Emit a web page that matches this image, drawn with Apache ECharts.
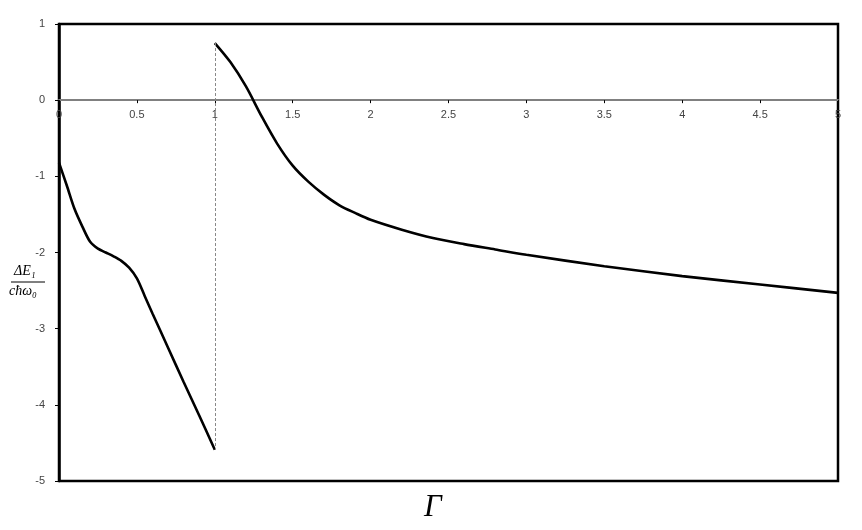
<!DOCTYPE html>
<html>
<head>
<meta charset="utf-8">
<script src="https://cdn.jsdelivr.net/npm/echarts@6/dist/echarts.min.js"></script>
<style>
html,body{margin:0;padding:0;background:#fff;}
#chart{width:862px;height:530px;}
</style>
</head>
<body>
<div id="chart"></div>
<script>
// Branch below Γ = 1
const gammaLow  = [0, 0.05, 0.1, 0.15, 0.2, 0.25, 0.3, 0.35, 0.4, 0.45, 0.5, 0.55, 0.6, 0.7, 0.8, 0.9, 1.0];
const energyLow = [-0.82, -1.12, -1.43, -1.66, -1.86, -1.95, -2.0, -2.05, -2.11, -2.2, -2.34, -2.57, -2.8, -3.25, -3.7, -4.14, -4.59];
// Branch above Γ = 1
const gammaHigh  = [1.0, 1.1, 1.2, 1.3, 1.4, 1.5, 1.6, 1.7, 1.8, 1.9, 2.0, 2.2, 2.4, 2.6, 2.8, 3.0, 3.5, 4.0, 4.5, 5.0];
const energyHigh = [0.75, 0.5, 0.18, -0.21, -0.57, -0.86, -1.07, -1.24, -1.38, -1.48, -1.57, -1.70, -1.81, -1.89, -1.96, -2.03, -2.18, -2.31, -2.42, -2.53];
const xTicks = [0, 0.5, 1, 1.5, 2, 2.5, 3, 3.5, 4, 4.5, 5];
const yTicks = [1, 0, -1, -2, -3, -4, -5];

const chart = echarts.init(document.getElementById('chart'));
const zip = (a, b) => a.map((v, i) => [v, b[i]]);
const lineStyle = { color: '#000', width: 2.6 };

const GRID = { left: 59, right: 24, top: 24, bottom: 49 };
const plotH = 530 - GRID.top - GRID.bottom;
const yMax = yTicks[0], yMin = yTicks[yTicks.length - 1];
// distance from top of plot to the zero line
const zeroOffset = plotH * (yMax - 0) / (yMax - yMin);

chart.setOption({
  animation: false,
  backgroundColor: '#fff',
  grid: Object.assign({ show: true, borderColor: '#000', borderWidth: 2.5, backgroundColor: 'transparent' }, GRID),
  xAxis: {
    type: 'value', position: 'top', offset: -zeroOffset,
    min: xTicks[0], max: xTicks[xTicks.length - 1], interval: 0.5,
    axisLine: { onZero: false, lineStyle: { color: '#808080', width: 2 } },
    axisTick: { show: true, length: 3, inside: true, lineStyle: { color: '#000', width: 1 } },
    axisLabel: { inside: true, color: '#444', fontSize: 11, fontFamily: 'Liberation Sans, Arial', margin: 9 },
    splitLine: { show: false }
  },
  yAxis: {
    type: 'value', min: yMin, max: yMax, interval: 1,
    axisLine: { show: true, onZero: false, lineStyle: { color: '#000', width: 2.5 } },
    axisTick: { show: true, length: 4, lineStyle: { color: '#000', width: 1 } },
    axisLabel: { color: '#444', fontSize: 11, fontFamily: 'Liberation Sans, Arial', margin: 14 },
    splitLine: { show: false }
  },
  series: [
    {
      type: 'line', data: zip(gammaLow, energyLow), smooth: 0.3, showSymbol: false, lineStyle: lineStyle
    },
    {
      type: 'line', data: zip(gammaHigh, energyHigh), smooth: 0.3, showSymbol: false, lineStyle: lineStyle,
      markLine: {
        silent: true, symbol: 'none', label: { show: false },
        lineStyle: { color: '#888', type: [3, 2], width: 1 },
        data: [[
          { coord: [gammaHigh[0], energyHigh[0]] },
          { coord: [gammaLow[gammaLow.length - 1], energyLow[energyLow.length - 1]] }
        ]]
      }
    }
  ],
  graphic: [
    { type: 'text', left: 14, top: 264, style: { text: 'ΔE₁', font: 'italic 14px "Liberation Serif", serif', fill: '#000' } },
    { type: 'line', shape: { x1: 11, y1: 282, x2: 45, y2: 282 }, style: { stroke: '#000', lineWidth: 1 } },
    { type: 'text', left: 9, top: 284, style: { text: 'cħω₀', font: 'italic 14px "Liberation Serif", serif', fill: '#000' } },
    { type: 'text', left: 424, top: 492, style: { text: 'Γ', font: 'italic 31px "Liberation Serif", serif', fill: '#000' } }
  ]
});
</script>
</body>
</html>
